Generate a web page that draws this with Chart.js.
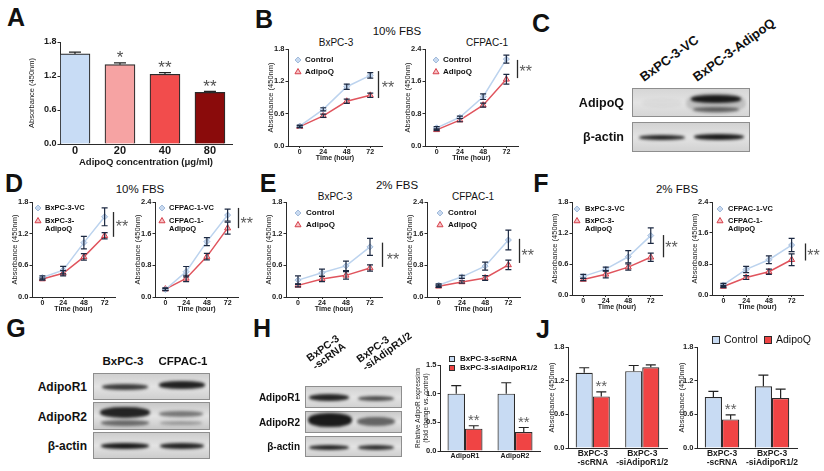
<!DOCTYPE html>
<html>
<head>
<meta charset="utf-8">
<title>AdipoQ and pancreatic cancer cell growth</title>
<script src="https://cdn.jsdelivr.net/npm/chart.js@4.4.1/dist/chart.umd.min.js"></script>
<style>
  html, body { margin: 0; padding: 0; background: #fff; }
  #fig { position: relative; width: 824px; height: 471px; overflow: hidden;
         font-family: "Liberation Sans", Arial, Helvetica, sans-serif; color: #111; }
  #fig canvas { position: absolute; }
  .txt { position: absolute; white-space: nowrap; line-height: 1; color: #111; }
  .blot { position: absolute; box-sizing: border-box; border: 1px solid #8e8e8e; }
  .band { position: absolute; border-radius: 45%; filter: blur(1.4px); }
</style>
</head>
<body>
<div id="fig"></div>
<script>
// ---------------- data ----------------
// A: dose response
const doseLabels = ['0', '20', '40', '80'];
const doseMeans = [1.59, 1.40, 1.23, 0.91];
const doseErrors = [0.03, 0.03, 0.03, 0.02];
const doseSig = ['', '*', '**', '**'];

// shared axes
const hours = [0, 24, 48, 72];
const ticks18 = [0, 0.6, 1.2, 1.8];
const ticks24 = [0, 0.8, 1.6, 2.4];
const ticks15 = [0, 0.5, 1.0, 1.5];

// series names
const namesTreat = ['Control', 'AdipoQ'];
const namesBx = [['BxPC-3-VC'], ['BxPC-3-', 'AdipoQ']];
const namesCf = [['CFPAC-1-VC'], ['CFPAC-1-', 'AdipoQ']];

// B: 10% FBS, recombinant AdipoQ
const bBxControl = [0.37, 0.68, 1.10, 1.31];
const bBxControlErr = [0.02, 0.03, 0.05, 0.05];
const bBxAdipoQ = [0.36, 0.56, 0.83, 0.94];
const bBxAdipoQErr = [0.02, 0.03, 0.04, 0.04];
const bCfControl = [0.45, 0.71, 1.22, 2.15];
const bCfControlErr = [0.03, 0.03, 0.07, 0.10];
const bCfAdipoQ = [0.40, 0.64, 1.01, 1.65];
const bCfAdipoQErr = [0.02, 0.04, 0.05, 0.12];

// D: 10% FBS, overexpression
const dBxVC = [0.37, 0.51, 1.03, 1.52];
const dBxVCErr = [0.03, 0.07, 0.12, 0.17];
const dBxAdipoQ = [0.34, 0.45, 0.76, 1.16];
const dBxAdipoQErr = [0.02, 0.05, 0.06, 0.06];
const dCfVC = [0.19, 0.64, 1.40, 2.07];
const dCfVCErr = [0.03, 0.13, 0.10, 0.15];
const dCfAdipoQ = [0.20, 0.47, 1.02, 1.74];
const dCfAdipoQErr = [0.03, 0.08, 0.08, 0.15];

// E: 2% FBS, recombinant AdipoQ
const eBxControl = [0.32, 0.46, 0.59, 0.95];
const eBxControlErr = [0.08, 0.07, 0.09, 0.16];
const eBxAdipoQ = [0.22, 0.34, 0.41, 0.55];
const eBxAdipoQErr = [0.03, 0.05, 0.07, 0.06];
const eCfControl = [0.30, 0.51, 0.78, 1.44];
const eCfControlErr = [0.03, 0.04, 0.10, 0.25];
const eCfAdipoQ = [0.27, 0.38, 0.48, 0.81];
const eCfAdipoQErr = [0.03, 0.03, 0.06, 0.12];

// F: 2% FBS, overexpression
const fBxVC = [0.36, 0.50, 0.74, 1.15];
const fBxVCErr = [0.04, 0.04, 0.12, 0.15];
const fBxAdipoQ = [0.30, 0.40, 0.54, 0.73];
const fBxAdipoQErr = [0.02, 0.07, 0.06, 0.08];
const fCfVC = [0.26, 0.66, 0.91, 1.29];
const fCfVCErr = [0.04, 0.08, 0.10, 0.17];
const fCfAdipoQ = [0.22, 0.45, 0.60, 0.91];
const fCfAdipoQErr = [0.03, 0.05, 0.07, 0.15];

// H: receptor knockdown quantification
const receptorLabels = ['AdipoR1', 'AdipoR2'];
const knockNames = ['BxPC-3-scRNA', 'BxPC-3-siAdipoR1/2'];
const scRNAMeans = [1.00, 1.00];
const scRNAErrors = [0.14, 0.19];
const siRNAMeans = [0.39, 0.33];
const siRNAErrors = [0.05, 0.08];
const siRNASig = ['**', '**'];

// J: growth after knockdown
const knockGroups = [['BxPC-3', '-scRNA'], ['BxPC-3', '-siAdipoR1/2']];
const jLeftControl = [1.34, 1.37];
const jLeftControlErr = [0.09, 0.10];
const jLeftAdipoQ = [0.92, 1.44];
const jLeftAdipoQErr = [0.08, 0.04];
const jRightControl = [0.91, 1.10];
const jRightControlErr = [0.10, 0.20];
const jRightAdipoQ = [0.51, 0.89];
const jRightAdipoQErr = [0.08, 0.16];
const jSig = ['**', ''];

// ---------------- setup ----------------
const fig = document.getElementById('fig');
const FONT = '"Liberation Sans", Arial, Helvetica, sans-serif';

Chart.defaults.font.family = FONT;
Chart.defaults.color = '#1a1a1a';
Chart.defaults.animation = false;
Chart.defaults.plugins.legend.display = false;
Chart.defaults.plugins.tooltip.enabled = false;

function valueAt(ds, j) {
  const v = ds.data[j];
  return typeof v === 'object' ? v.y : v;
}

// error bars drawn from each dataset's errors array
const errorBarPlugin = {
  id: 'errorBars',
  afterDatasetsDraw(chart) {
    const ctx = chart.ctx;
    const ys = chart.scales.y;
    chart.data.datasets.forEach((ds, i) => {
      if (!ds.errors) return;
      const cap = ds.errorCap || 3;
      ctx.save();
      ctx.strokeStyle = ds.errorColor || '#222';
      ctx.lineWidth = 1.2;
      chart.getDatasetMeta(i).data.forEach((el, j) => {
        const v = valueAt(ds, j);
        const top = ys.getPixelForValue(v + ds.errors[j]);
        const bottom = ds.errorUpOnly ? el.y : ys.getPixelForValue(v - ds.errors[j]);
        ctx.beginPath();
        ctx.moveTo(el.x, top);
        ctx.lineTo(el.x, bottom);
        ctx.moveTo(el.x - cap, top);
        ctx.lineTo(el.x + cap, top);
        if (!ds.errorUpOnly) {
          ctx.moveTo(el.x - cap, bottom);
          ctx.lineTo(el.x + cap, bottom);
        }
        ctx.stroke();
      });
      ctx.restore();
    });
  }
};

// asterisks and the bracket next to the 72 h points
const sigPlugin = {
  id: 'sig',
  afterDraw(chart, args, opts) {
    const {ctx, scales} = chart;
    const xs = scales.x, ys = scales.y;
    const size = opts.size || 14;
    ctx.save();
    ctx.font = `${size}px ${FONT}`;
    ctx.fillStyle = opts.color || '#5a5a5a';
    ctx.textAlign = 'center';
    ctx.textBaseline = 'alphabetic';
    const star = (text, px, py) => ctx.fillText(text, px, py + size * 0.55);

    if (opts.bracket) {
      const [bx, y0, y1] = opts.bracket;
      const px = Math.round(xs.getPixelForValue(bx)) + 0.5;
      ctx.strokeStyle = '#2a2a2a';
      ctx.lineWidth = 1.3;
      ctx.beginPath();
      ctx.moveTo(px, ys.getPixelForValue(y0));
      ctx.lineTo(px, ys.getPixelForValue(y1));
      ctx.stroke();
    }
    (opts.marks || []).forEach(([mx, my, t]) => star(t, xs.getPixelForValue(mx), ys.getPixelForValue(my)));

    chart.data.datasets.forEach((ds, i) => {
      if (!ds.sig) return;
      chart.getDatasetMeta(i).data.forEach((el, j) => {
        if (!ds.sig[j]) return;
        const v = valueAt(ds, j) + (ds.errors ? ds.errors[j] : 0);
        star(ds.sig[j], el.x, ys.getPixelForValue(v) - (opts.gap || 9));
      });
    });
    ctx.restore();
  }
};

// legend placed inside / just above the plot area
const insideLegend = {
  id: 'insideLegend',
  afterDraw(chart, args, opts) {
    if (!opts.items) return;
    const {ctx, chartArea} = chart;
    ctx.save();
    ctx.font = opts.font;
    ctx.textBaseline = 'middle';
    ctx.textAlign = 'left';
    opts.items.forEach(item => {
      const ds = chart.data.datasets[item.dataset];
      const x = chartArea.left + item.x, y = chartArea.top + item.y;
      if (opts.marker === 'box') {
        const s = opts.box;
        ctx.fillStyle = ds.backgroundColor;
        ctx.strokeStyle = '#2b2b2b';
        ctx.lineWidth = 1;
        ctx.fillRect(x - s / 2, y - s / 2, s, s);
        ctx.strokeRect(x - s / 2 + 0.5, y - s / 2 + 0.5, s - 1, s - 1);
      } else {
        ctx.fillStyle = ds.pointBackgroundColor;
        ctx.strokeStyle = ds.pointBorderColor;
        ctx.lineWidth = 1;
        Chart.helpers.drawPoint(ctx, {pointStyle: ds.pointStyle, radius: ds.pointRadius, rotation: 0, borderWidth: 1}, x, y);
      }
      ctx.fillStyle = '#111';
      [].concat(ds.label).forEach((ln, k) => ctx.fillText(ln, x + opts.textDx, y + k * (opts.lineH || 8)));
    });
    ctx.restore();
  }
};

Chart.register(errorBarPlugin, sigPlugin, insideLegend);

// canvas placed so that its chart area lands on area = [left, top, right, bottom]
function makeCanvas(area, pad) {
  const [l, t, r, b] = area;
  const c = document.createElement('canvas');
  const w = r - l + pad.l + pad.r, h = b - t + pad.t + pad.b;
  c.width = w;
  c.height = h;
  c.style.left = (l - pad.l) + 'px';
  c.style.top = (t - pad.t) + 'px';
  c.style.width = w + 'px';
  c.style.height = h + 'px';
  fig.appendChild(c);
  return c;
}

function axisLine() {
  return {display: true, color: '#2a2a2a', width: 1};
}

function yAxis(pad, ticks, tickSize, title) {
  return {
    min: 0, max: ticks[ticks.length - 1],
    afterBuildTicks: s => { s.ticks = ticks.map(v => ({value: v})); },
    afterFit: s => { s.width = pad.l; },
    border: axisLine(),
    grid: {drawOnChartArea: false, tickLength: 2.5, color: '#2a2a2a'},
    ticks: {font: {size: tickSize, weight: 'bold'}, padding: 1, callback: v => v.toFixed(1)},
    title: title
  };
}

// ---------------- line charts (B, D, E, F) ----------------
function controlSeries(label, values, errors) {
  return {
    label, errors,
    data: values.map((v, i) => ({x: hours[i], y: v})),
    borderColor: '#bcd3ee', borderWidth: 1.5,
    pointStyle: 'rectRot', pointRadius: 3,
    pointBackgroundColor: '#c9daf0', pointBorderColor: '#a2bbdb', pointBorderWidth: 1,
    errorColor: '#1c2942'
  };
}

function adipoSeries(label, values, errors) {
  return {
    label, errors,
    data: values.map((v, i) => ({x: hours[i], y: v})),
    borderColor: '#e0545d', borderWidth: 1.5,
    pointStyle: 'triangle', pointRadius: 3.5,
    pointBackgroundColor: '#f6c3c6', pointBorderColor: '#d63f4a', pointBorderWidth: 1,
    errorColor: '#1c2942'
  };
}

function growthChart(area, s) {
  const pad = {l: 22, t: 8, r: 28, b: 16};
  return new Chart(makeCanvas(area, pad), {
    type: 'line',
    data: {
      datasets: [
        controlSeries(s.names[0], s.control, s.controlErr),
        adipoSeries(s.names[1], s.treated, s.treatedErr)
      ]
    },
    options: {
      responsive: false,
      layout: {padding: {left: 0, top: pad.t, right: pad.r, bottom: 0}},
      scales: {
        x: {
          type: 'linear', min: -12, max: 84,
          afterBuildTicks: sc => { sc.ticks = hours.map(v => ({value: v})); },
          afterFit: sc => { sc.height = pad.b; },
          border: axisLine(),
          grid: {drawOnChartArea: false, tickLength: 2, color: '#2a2a2a'},
          ticks: {font: {size: 7, weight: 'bold'}, padding: 0},
          title: {display: true, text: 'Time (hour)', font: {size: 7, weight: 'bold'}, padding: 0}
        },
        y: yAxis(pad, s.yTicks, 7.5, {display: true, text: 'Absorbance (450nm)', font: {size: 7.5}, padding: 0})
      },
      plugins: {
        insideLegend: {
          marker: 'point', font: `bold ${s.legendSize || 8}px ${FONT}`,
          textDx: s.legend.dx, lineH: 7.5,
          items: [{dataset: 0, x: s.legend.x, y: s.legend.y[0]}, {dataset: 1, x: s.legend.x, y: s.legend.y[1]}]
        },
        sig: {size: 16, bracket: s.bracket, marks: s.marks}
      }
    }
  });
}

// ---------------- A: dose bars ----------------
function initDoseChart() {
  const area = [60, 42, 232, 144], pad = {l: 33, t: 10, r: 6, b: 24};
  new Chart(makeCanvas(area, pad), {
    type: 'bar',
    data: {
      datasets: [{
        data: doseMeans.map((v, i) => ({x: i, y: v})),
        backgroundColor: ['#c8dcf5', '#f6a3a3', '#f24c4c', '#8a0b0b'],
        borderColor: '#2b2b2b', borderWidth: 1.2,
        barThickness: 30,
        errors: doseErrors, errorUpOnly: true, errorCap: 6, errorColor: '#222',
        sig: doseSig
      }]
    },
    options: {
      responsive: false,
      layout: {padding: {left: 0, top: pad.t, right: pad.r, bottom: 0}},
      scales: {
        x: {
          type: 'linear', min: -0.333, max: 3.49, offset: false,
          afterBuildTicks: sc => { sc.ticks = doseLabels.map((_, i) => ({value: i})); },
          afterFit: sc => { sc.height = pad.b; },
          border: axisLine(),
          grid: {display: true, drawOnChartArea: false, drawTicks: false, offset: false},
          ticks: {font: {size: 11, weight: 'bold'}, padding: 0, callback: v => doseLabels[v]},
          title: {display: true, text: 'AdipoQ concentration (μg/ml)', font: {size: 9.5, weight: 'bold'}, padding: 0}
        },
        y: yAxis(pad, ticks18, 9, {display: true, text: 'Absorbance (450nm)', font: {size: 7.5}, padding: 0})
      },
      plugins: {sig: {size: 17, gap: 9, color: '#505050'}}
    }
  });
}

// ---------------- H and J: grouped bars ----------------
function groupedBars(area, pad, c) {
  return new Chart(makeCanvas(area, pad), {
    type: 'bar',
    data: {
      labels: c.labels,
      datasets: c.sets.map(set => ({
        label: set.label, data: set.values,
        backgroundColor: set.color, borderColor: '#2b2b2b', borderWidth: 1.2,
        categoryPercentage: c.catPct, barPercentage: 1.0,
        errors: set.errors, errorUpOnly: true, errorCap: 5, errorColor: '#222',
        sig: set.sig
      }))
    },
    options: {
      responsive: false,
      layout: {padding: {left: 0, top: pad.t, right: pad.r, bottom: 0}},
      scales: {
        x: {
          afterFit: sc => { sc.height = pad.b; },
          border: axisLine(),
          grid: {display: true, drawOnChartArea: false, drawTicks: false},
          ticks: {font: {size: c.xTickSize, weight: 'bold', lineHeight: 1.1}, padding: 1, maxRotation: 0, autoSkip: false}
        },
        y: yAxis(pad, c.yTicks, 7.5, c.yTitle)
      },
      plugins: {insideLegend: c.legend || {}, sig: {size: 15, gap: 9, color: '#5f5f5f'}}
    }
  });
}

// ---------------- text and blot helpers ----------------
function addText(str, x, y, size, bold, align) {
  const el = document.createElement('div');
  el.className = 'txt';
  el.textContent = str;
  el.style.fontSize = size + 'px';
  el.style.fontWeight = bold ? 'bold' : 'normal';
  el.style.left = x + 'px';
  el.style.top = y + 'px';
  const tx = align === 'right' ? '-100%' : align === 'left' ? '0' : '-50%';
  el.style.transform = `translate(${tx}, -50%)`;
  fig.appendChild(el);
}

// slanted column labels; (x, y) is the start of the first baseline
function addSlanted(lines, x, y, size, lineH) {
  const el = document.createElement('div');
  el.className = 'txt';
  el.style.fontSize = size + 'px';
  el.style.fontWeight = 'bold';
  el.style.lineHeight = lineH + 'px';
  lines.forEach(t => {
    const row = document.createElement('div');
    row.textContent = t;
    el.appendChild(row);
  });
  const base = (lineH - size * 1.117) / 2 + size * 0.905;
  el.style.left = x + 'px';
  el.style.top = (y - base) + 'px';
  el.style.transformOrigin = `0 ${base}px`;
  el.style.transform = 'rotate(-36deg)';
  fig.appendChild(el);
}

function addStrip(x, y, w, h, shade) {
  const el = document.createElement('div');
  el.className = 'blot';
  Object.assign(el.style, {
    left: x + 'px', top: y + 'px', width: w + 'px', height: h + 'px',
    background: `linear-gradient(180deg, ${shade}, #e3e3e3 50%, ${shade})`
  });
  fig.appendChild(el);
}

function addBand([cx, cy, w, h, a]) {
  const el = document.createElement('div');
  el.className = 'band';
  Object.assign(el.style, {
    left: (cx - w / 2) + 'px', top: (cy - h / 2) + 'px', width: w + 'px', height: h + 'px',
    background: `rgba(16,16,16,${a})`
  });
  fig.appendChild(el);
}

// ---------------- build the figure ----------------
document.addEventListener('DOMContentLoaded', function() {
  // panel letters
  [['A', 16, 17], ['B', 264, 19], ['C', 541, 23], ['D', 14, 183], ['E', 268, 183],
   ['F', 541, 183], ['G', 16, 328], ['H', 262, 328], ['J', 543, 329]]
    .forEach(([t, x, y]) => addText(t, x, y, 25, true));

  initDoseChart();

  // B
  addText('10% FBS', 397, 32, 11.5, false);
  addText('BxPC-3', 336, 43, 10, false);
  addText('CFPAC-1', 487, 43, 10, false);
  growthChart([288, 49, 382, 146], {
    names: namesTreat, yTicks: ticks18,
    control: bBxControl, controlErr: bBxControlErr, treated: bBxAdipoQ, treatedErr: bBxAdipoQErr,
    legend: {x: 10, y: [11, 23], dx: 7},
    bracket: [80, 0.89, 1.39], marks: [[90, 1.15, '**']]
  });
  growthChart([425, 49, 518, 146], {
    names: namesTreat, yTicks: ticks24,
    control: bCfControl, controlErr: bCfControlErr, treated: bCfAdipoQ, treatedErr: bCfAdipoQErr,
    legend: {x: 11, y: [11, 23], dx: 7},
    bracket: [83, 1.68, 2.13], marks: [[92, 1.93, '**']]
  });

  // C: AdipoQ overexpression blot
  addSlanted(['BxPC-3-VC'], 644, 82, 13, 13);
  addSlanted(['BxPC-3-AdipoQ'], 697, 82, 13, 13);
  addText('AdipoQ', 624, 103, 12.5, true, 'right');
  addText('β-actin', 624, 137, 12.5, true, 'right');
  addStrip(632, 88, 118, 29, '#d6d6d6');
  addStrip(632, 122, 118, 30, '#d2d2d2');
  [[716, 103, 60, 20, 0.16], [716, 99, 50, 8, 0.95], [716, 109, 46, 5, 0.55], [662, 103, 40, 8, 0.04],
   [662, 137, 46, 5, 0.9], [719, 137, 50, 6, 0.95]].forEach(addBand);

  // D
  addText('10% FBS', 140, 190, 11.5, false);
  growthChart([32, 202, 115, 297], {
    names: namesBx, yTicks: ticks18, legendSize: 7.5,
    control: dBxVC, controlErr: dBxVCErr, treated: dBxAdipoQ, treatedErr: dBxAdipoQErr,
    legend: {x: 6, y: [6, 19], dx: 7},
    bracket: [82, 1.14, 1.61], marks: [[92, 1.40, '**']]
  });
  growthChart([155, 202, 238, 297], {
    names: namesCf, yTicks: ticks24, legendSize: 7.5,
    control: dCfVC, controlErr: dCfVCErr, treated: dCfAdipoQ, treatedErr: dCfAdipoQErr,
    legend: {x: 7, y: [6, 19], dx: 7},
    bracket: [84, 1.74, 2.25], marks: [[94, 1.95, '**']]
  });

  // E
  addText('2% FBS', 397, 186, 11.5, false);
  addText('BxPC-3', 335, 197, 10, false);
  addText('CFPAC-1', 473, 197, 10, false);
  growthChart([286, 202, 382, 297], {
    names: namesTreat, yTicks: ticks18,
    control: eBxControl, controlErr: eBxControlErr, treated: eBxAdipoQ, treatedErr: eBxAdipoQErr,
    legend: {x: 12, y: [11, 23], dx: 8},
    bracket: [84, 0.57, 1.03], marks: [[95, 0.78, '**']]
  });
  growthChart([427, 202, 520, 297], {
    names: namesTreat, yTicks: ticks24,
    control: eCfControl, controlErr: eCfControlErr, treated: eCfAdipoQ, treatedErr: eCfAdipoQErr,
    legend: {x: 13, y: [11, 23], dx: 8},
    bracket: [83, 0.86, 1.47], marks: [[92, 1.14, '**']]
  });

  // F
  addText('2% FBS', 677, 190, 11.5, false);
  growthChart([572, 202, 662, 295], {
    names: namesBx, yTicks: ticks18, legendSize: 7.5,
    control: fBxVC, controlErr: fBxVCErr, treated: fBxAdipoQ, treatedErr: fBxAdipoQErr,
    legend: {x: 5, y: [7, 19], dx: 8},
    bracket: [85, 0.73, 1.16], marks: [[94, 0.98, '**']]
  });
  growthChart([712, 202, 803, 295], {
    names: namesCf, yTicks: ticks24, legendSize: 7.5,
    control: fCfVC, controlErr: fCfVCErr, treated: fCfAdipoQ, treatedErr: fCfAdipoQErr,
    legend: {x: 8, y: [7, 19], dx: 8},
    bracket: [86, 0.89, 1.33], marks: [[95, 1.11, '**']]
  });

  // G: receptor blot
  addText('BxPC-3', 123, 362, 11.5, true);
  addText('CFPAC-1', 183, 362, 11.5, true);
  addText('AdipoR1', 87, 387, 12, true, 'right');
  addText('AdipoR2', 87, 417, 12, true, 'right');
  addText('β-actin', 87, 446, 12, true, 'right');
  addStrip(93, 373, 117, 27, '#d0d0d0');
  addStrip(93, 402, 117, 28, '#c8c8c8');
  addStrip(93, 432, 117, 27, '#cdcdcd');
  [[125, 387, 46, 6, 0.8], [182, 385, 46, 8, 0.92],
   [125, 412, 50, 11, 0.9], [125, 423, 48, 6, 0.55], [181, 414, 44, 6, 0.5], [181, 423, 42, 4, 0.3],
   [125, 446, 48, 6, 0.95], [182, 446, 44, 6, 0.9]].forEach(addBand);

  // H: knockdown blot + quantification
  addSlanted(['BxPC-3', '-scRNA'], 310, 362, 10.5, 9.5);
  addSlanted(['BxPC-3', '-siAdipR1/2'], 360, 363, 10.5, 9.5);
  addText('AdipoR1', 300, 398, 10, true, 'right');
  addText('AdipoR2', 300, 423, 10, true, 'right');
  addText('β-actin', 300, 447, 10, true, 'right');
  addStrip(305, 386, 97, 22, '#d2d2d2');
  addStrip(305, 411, 97, 22, '#cacaca');
  addStrip(305, 436, 97, 21, '#d0d0d0');
  [[329, 397, 40, 7, 0.9], [376, 398, 36, 5, 0.7],
   [330, 420, 44, 14, 0.95], [376, 421, 38, 9, 0.6],
   [329, 447, 40, 5, 0.9], [376, 447, 36, 5, 0.85]].forEach(addBand);

  groupedBars([440, 365, 540, 451], {l: 25, t: 12, r: 8, b: 10}, {
    labels: receptorLabels, catPct: 0.7, xTickSize: 7, yTicks: ticks15,
    yTitle: {display: true, text: ['Relative AdipoR expression', '(fold change vs. control)'],
             font: {size: 6.5, lineHeight: 1.1}, padding: 0},
    sets: [
      {label: knockNames[0], values: scRNAMeans, errors: scRNAErrors, color: '#c8dbf3'},
      {label: knockNames[1], values: siRNAMeans, errors: siRNAErrors, color: '#f04444', sig: siRNASig}
    ],
    legend: {marker: 'box', box: 6, font: `bold 8px ${FONT}`, textDx: 8,
             items: [{dataset: 0, x: 12, y: -6}, {dataset: 1, x: 12, y: 3}]}
  });

  // J
  groupedBars([568, 347, 667, 448], {l: 21, t: 8, r: 10, b: 22}, {
    labels: knockGroups, catPct: 0.69, xTickSize: 8.5, yTicks: ticks18,
    yTitle: {display: true, text: 'Absorbance (450nm)', font: {size: 7.5}, padding: 0},
    sets: [
      {label: 'Control', values: jLeftControl, errors: jLeftControlErr, color: '#c8dbf3'},
      {label: 'AdipoQ', values: jLeftAdipoQ, errors: jLeftAdipoQErr, color: '#f04444', sig: jSig}
    ]
  });
  groupedBars([697, 347, 797, 448], {l: 20, t: 14, r: 27, b: 22}, {
    labels: knockGroups, catPct: 0.69, xTickSize: 8.5, yTicks: ticks18,
    yTitle: {display: true, text: 'Absorbance (450nm)', font: {size: 7.5}, padding: 0},
    sets: [
      {label: 'Control', values: jRightControl, errors: jRightControlErr, color: '#c8dbf3'},
      {label: 'AdipoQ', values: jRightAdipoQ, errors: jRightAdipoQErr, color: '#f04444', sig: jSig}
    ],
    legend: {marker: 'box', box: 8, font: `10.5px ${FONT}`, textDx: 8,
             items: [{dataset: 0, x: 19, y: -7}, {dataset: 1, x: 71, y: -7}]}
  });
});
</script>
</body>
</html>
